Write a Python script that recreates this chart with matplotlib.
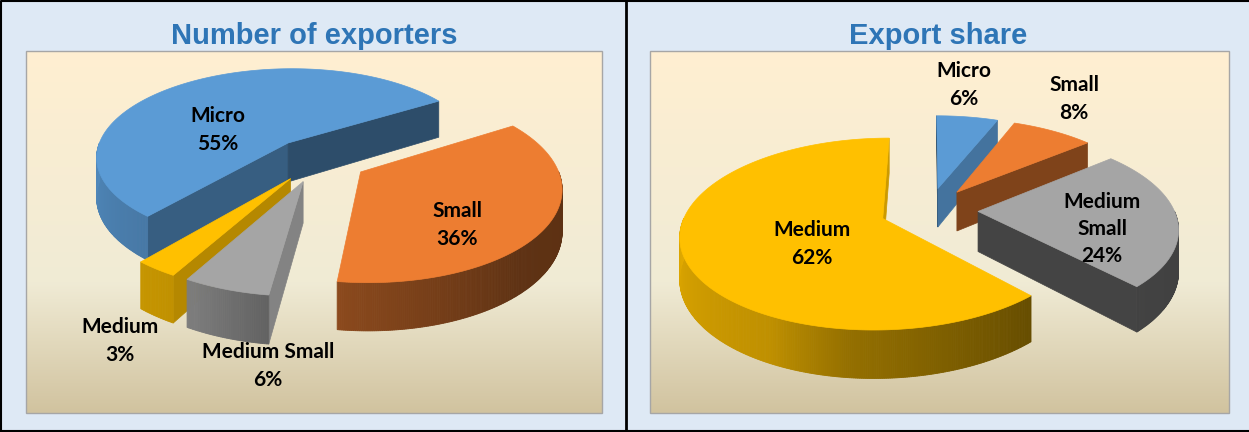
import numpy as np
import matplotlib
matplotlib.use("Agg")
import matplotlib.pyplot as plt
from matplotlib.colors import LinearSegmentedColormap, to_rgb
from matplotlib.patches import Polygon, Rectangle

# chart values
left_title = "Number of exporters"
left_names = ["Micro", "Small", "Medium Small", "Medium"]
left_values = [55, 36, 6, 3]

right_title = "Export share"
right_names = ["Micro", "Small", "Medium\nSmall", "Medium"]
right_values = [6, 8, 24, 62]

# styles and layout, pixel units of the 1249x432 picture
colors = ["#5B9BD5", "#ED7D31", "#A5A5A5", "#FFC000"]
left_label_pos = [(218, 130), (457, 225), (268, 366), (120, 341)]
right_label_pos = [(964, 85), (1074, 99), (1102, 229), (812, 244)]

left_shape = dict(rx=194, ry=90, persp=0.15, cx=319, cy=159.5, start=220)
right_shape = dict(rx=196, ry=90.7, persp=0.16, cx=929, cy=210, start=0)
DEPTH = 40           # pie thickness
EXPLODE = 0.25

fig = plt.figure(figsize=(12.49, 4.32), dpi=100, facecolor="#DEE9F5")
ax = fig.add_axes([0, 0, 1, 1])
ax.set_xlim(0, 1249)
ax.set_ylim(432, 0)
ax.axis("off")

cmap = LinearSegmentedColormap.from_list(
    "plot_bg", [(0, "#FFEFD1"), (0.64, "#F0EBD5"), (1, "#D1C39F")])
grad = np.linspace(0, 1, 256).reshape(-1, 1)


def project(x, y, shape, z=0):
    s = 1 / (1 + shape["persp"] * y)
    return shape["cx"] + shape["rx"] * x * s, shape["cy"] - shape["ry"] * y * s + DEPTH * z * s


def side_shade(normal):
    # flat cut faces, by the way they face
    return np.interp(normal % 360, [96, 118, 128, 146, 227], [0.8, 0.72, 0.62, 0.5, 0.41])


def arc_shade(theta):
    # rim of the pie gets darker from left to right
    return np.interp(theta % 360, [90, 137, 186, 207, 270], [0.39, 0.40, 0.58, 0.75, 0.88])


def draw_pie(values, shape):
    angles = shape["start"] + np.cumsum([0] + values) * 3.6
    slices = []
    for i in range(len(values)):
        t1, t2 = angles[i], angles[i + 1]
        mid = np.radians((t1 + t2) / 2)
        ox, oy = EXPLODE * np.sin(mid), EXPLODE * np.cos(mid)
        slices.append((oy, i, t1, t2, ox))
    # back slices first
    for oy, i, t1, t2, ox in sorted(slices, key=lambda s: -s[0]):
        rgb = np.array(to_rgb(colors[i]))
        th = np.linspace(t1, t2, max(int(t2 - t1) * 2, 4))
        rad = np.radians(th)
        rim_x, rim_y = ox + np.sin(rad), oy + np.cos(rad)

        # cut faces
        for t, normal in [(t1, t1 - 90), (t2, t2 + 90)]:
            if np.cos(np.radians(normal)) < 1e-6:
                ex, ey = ox + np.sin(np.radians(t)), oy + np.cos(np.radians(t))
                pts = [project(ox, oy, shape), project(ex, ey, shape),
                       project(ex, ey, shape, 1), project(ox, oy, shape, 1)]
                c = rgb * side_shade(normal)
                ax.add_patch(Polygon(pts, fc=c, ec=c, lw=0.5))

        # rim, only the front part shows
        for j in range(len(th) - 1):
            if np.cos(rad[j]) + np.cos(rad[j + 1]) < 0:
                pts = [project(rim_x[j], rim_y[j], shape),
                       project(rim_x[j + 1], rim_y[j + 1], shape),
                       project(rim_x[j + 1], rim_y[j + 1], shape, 1),
                       project(rim_x[j], rim_y[j], shape, 1)]
                c = rgb * arc_shade((th[j] + th[j + 1]) / 2)
                ax.add_patch(Polygon(pts, fc=c, ec=c, lw=0.6))

        # top face
        top_x, top_y = project(np.r_[ox, rim_x], np.r_[oy, rim_y], shape)
        ax.add_patch(Polygon(np.c_[top_x, top_y], fc=colors[i], ec=colors[i], lw=0.5))


def draw_panel(title, names, values, label_pos, box, tx, shape):
    x0, x1, y0, y1 = box
    ax.imshow(grad, cmap=cmap, extent=[x0, x1, y1, y0], aspect="auto", zorder=0)
    ax.add_patch(Rectangle((x0, y0), x1 - x0, y1 - y0, fc="none", ec="#A6A6A6", lw=1, zorder=1))
    ax.text(tx, 36, title, ha="center", va="center", color="#2E75B6", fontsize=21,
            fontweight="bold", family="Liberation Sans")
    draw_pie(values, shape)
    for name, v, (lx, ly) in zip(names, values, label_pos):
        ax.text(lx, ly, f"{name}\n{v}%", ha="center", va="center", fontsize=15,
                fontweight="bold", family="Lato", color="black", linespacing=1.45, zorder=5)


draw_panel(left_title, left_names, left_values, left_label_pos,
           (26, 602, 51, 413), 314, left_shape)
draw_panel(right_title, right_names, right_values, right_label_pos,
           (650, 1229, 51, 413), 938, right_shape)
ax.set_xlim(0, 1249)
ax.set_ylim(432, 0)

# black frame round the two panels
ax.plot([1, 1, 1249], [432, 1, 1], color="black", lw=1.5, clip_on=False)
ax.plot([0, 1249], [431, 431], color="black", lw=1.5)
ax.plot([626, 626], [0, 432], color="black", lw=2)

fig.savefig("out.png", dpi=100, facecolor=fig.get_facecolor())
